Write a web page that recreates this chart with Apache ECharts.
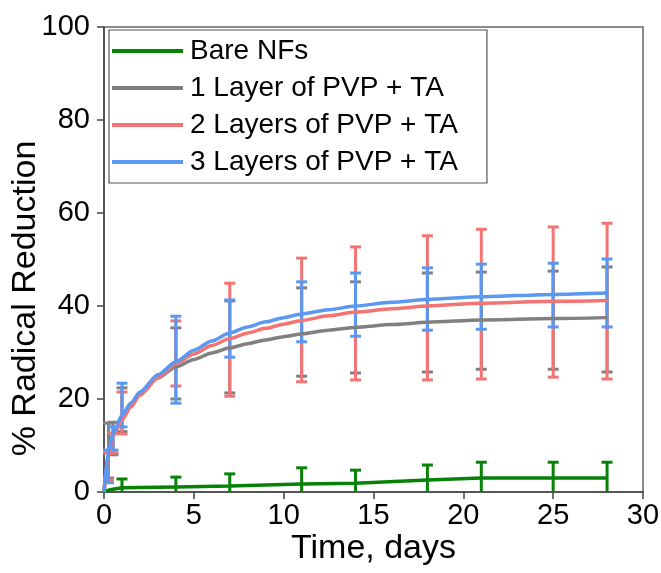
<!DOCTYPE html>
<html>
<head>
<meta charset="utf-8">
<script src="https://cdn.jsdelivr.net/npm/echarts@6/dist/echarts.min.js"></script>
<style>
  html, body { margin: 0; padding: 0; background: #fff; }
  #chart { width: 661px; height: 573px; }
</style>
</head>
<body>
<div id="chart"></div>
<script>
// Series names
const names = ['Bare NFs', '1 Layer of PVP + TA', '2 Layers of PVP + TA', '3 Layers of PVP + TA'];

// Fitted release curves (% radical reduction vs. time in days)
const curveDays = [0, 0.25, 0.5, 1, 1.5, 2, 3, 4, 5, 6, 7, 8, 9, 10, 11, 12.5, 14, 16, 18, 21, 25, 28];
const grayCurve = [0, 8.5, 12.5, 16, 18.7, 21, 24.5, 26.9, 28.5, 29.9, 31.0, 31.9, 32.7, 33.4, 34.0, 34.8, 35.4, 36.0, 36.5, 37.0, 37.3, 37.5];
const redCurve  = [0, 8, 12, 15.5, 18.3, 20.8, 24.5, 27.6, 29.7, 31.5, 33.0, 34.2, 35.2, 36.1, 36.9, 37.9, 38.7, 39.4, 40.0, 40.6, 41.0, 41.2];
const blueCurve = [0, 9, 12.5, 16.5, 19.2, 21.5, 25.2, 28, 30.5, 32.5, 34.2, 35.5, 36.6, 37.5, 38.3, 39.2, 40.0, 40.8, 41.4, 42.0, 42.5, 42.8];

// Bare nanofibres
const greenDays  = [0, 0.25, 0.5, 1, 4, 7, 11, 14, 18, 21, 25, 28];
const greenCurve = [0, 0.4, 0.6, 0.9, 1.1, 1.3, 1.7, 1.9, 2.6, 3.0, 3.0, 3.0];

// Error bars at the measurement days: [low, high]
const barDays  = [0.25, 0.5, 1, 4, 7, 11, 14, 18, 21, 25, 28];
const grayLow  = [3, 8, 13, 20, 21.3, 24.9, 25.6, 25.8, 26.4, 26.4, 25.8];
const grayHigh = [14.8, 15, 22.4, 35.3, 41.1, 43.9, 45.2, 47.1, 47.3, 47.5, 48.4];
const redLow   = [2.6, 8.4, 12.5, 22.8, 20.6, 23.7, 24.1, 24.1, 24.3, 24.7, 24.3];
const redHigh  = [8.4, 12.7, 21.5, 36.8, 44.9, 50.3, 52.7, 55.1, 56.5, 57.0, 57.8];
const blueLow  = [2, 9, 14, 19.1, 29.0, 32.3, 33.5, 34.8, 35.0, 35.5, 35.5];
const blueHigh = [9, 14, 23.4, 37.8, 41.3, 45.2, 47.1, 48.2, 49.0, 49.2, 50.1];

const greenBarDays = [1, 4, 7, 11, 14, 18, 21, 25, 28];
const greenMean    = [0.9, 1.1, 1.3, 1.7, 1.9, 2.6, 3.0, 3.0, 3.0];
const greenHigh    = [2.8, 3.2, 3.9, 5.2, 4.7, 5.8, 6.4, 6.4, 6.4];

// Axis ticks
const xTicks = [0, 5, 10, 15, 20, 25, 30];
const yTicks = [0, 20, 40, 60, 80, 100];

const colors = { green: '#078207', gray: '#808080', red: '#F47474', blue: '#5A98F2' };
const FONT = '"Liberation Sans", Arial, sans-serif';

function pairs(xs, ys) { return xs.map((x, i) => [x, ys[i]]); }
function triples(xs, lo, hi) { return xs.map((x, i) => [x, lo[i], hi[i]]); }

function errorBarRenderer(color) {
  return function (params, api) {
    const x = api.value(0);
    const lo = Math.max(api.value(1), 0);
    const hi = api.value(2);
    const pLo = api.coord([x, lo]);
    const pHi = api.coord([x, hi]);
    const half = 5.5;
    const style = { stroke: color, lineWidth: 3 };
    const children = [
      { type: 'line', shape: { x1: pLo[0], y1: pLo[1], x2: pHi[0], y2: pHi[1] }, style },
      { type: 'line', shape: { x1: pHi[0] - half, y1: pHi[1], x2: pHi[0] + half, y2: pHi[1] }, style }
    ];
    if (api.value(1) > 0) {
      children.push({ type: 'line', shape: { x1: pLo[0] - half, y1: pLo[1], x2: pLo[0] + half, y2: pLo[1] }, style });
    }
    return { type: 'group', children };
  };
}

function barSeries(data, color, z) {
  return {
    type: 'custom',
    renderItem: errorBarRenderer(color),
    data,
    z,
    silent: true,
    encode: { x: 0, y: [1, 2] }
  };
}

function curveSeries(name, data, color, z, smooth) {
  return {
    name, type: 'line', data, z,
    smooth: smooth ? 0.25 : false,
    smoothMonotone: 'x',
    symbol: 'none',
    color,
    lineStyle: { color, width: 3.5 },
    itemStyle: { color }
  };
}

const chart = echarts.init(document.getElementById('chart'), null, { renderer: 'canvas' });

chart.setOption({
  animation: false,
  backgroundColor: '#fff',
  grid: {
    left: 104, right: 18, top: 27, bottom: 81,
    containLabel: false,
    outerBoundsMode: 'none',
    show: true, borderColor: '#666', borderWidth: 1.5, backgroundColor: 'transparent'
  },
  legend: {
    data: names,
    orient: 'vertical',
    left: 109, top: 30,
    icon: 'rect',
    itemWidth: 71, itemHeight: 4, itemGap: 7,
    padding: [6, 29, 6, 3],
    backgroundColor: '#fff',
    borderColor: '#555', borderWidth: 1.2,
    textStyle: { fontFamily: FONT, fontSize: 28, color: '#000', lineHeight: 30, padding: [0, 0, 0, 2] }
  },
  xAxis: {
    type: 'value', min: xTicks[0], max: xTicks[xTicks.length - 1], interval: 5,
    name: 'Time, days', nameLocation: 'middle', nameGap: 40,
    nameMoveOverlap: false,
    nameTextStyle: { fontFamily: FONT, fontSize: 34, color: '#000' },
    axisLine: { show: true, onZero: false, lineStyle: { color: '#444', width: 1.5 } },
    axisTick: { show: true, inside: false, length: 7, lineStyle: { color: '#444', width: 1.5 } },
    axisLabel: { fontFamily: FONT, fontSize: 29, color: '#000', margin: 9 },
    splitLine: { show: false }
  },
  yAxis: {
    type: 'value', min: yTicks[0], max: yTicks[yTicks.length - 1], interval: 20,
    name: '% Radical Reduction', nameLocation: 'middle', nameGap: 61,
    nameMoveOverlap: false,
    nameTextStyle: { fontFamily: FONT, fontSize: 34, color: '#000', padding: [0, 78, 0, 0] },
    axisLine: { show: true, onZero: false, lineStyle: { color: '#444', width: 1.5 } },
    axisTick: { show: true, inside: false, length: 7, lineStyle: { color: '#444', width: 1.5 } },
    axisLabel: { fontFamily: FONT, fontSize: 29, color: '#000', margin: 14 },
    splitLine: { show: false }
  },
  series: [
    barSeries(triples(greenBarDays, greenMean.map((m, i) => 2 * m - greenHigh[i]), greenHigh), colors.green, 2),
    barSeries(triples(barDays, grayLow, grayHigh), colors.gray, 3),
    barSeries(triples(barDays, redLow, redHigh), colors.red, 4),
    barSeries(triples(barDays, blueLow, blueHigh), colors.blue, 5),
    curveSeries(names[0], pairs(greenDays, greenCurve), colors.green, 6, false),
    curveSeries(names[1], pairs(curveDays, grayCurve), colors.gray, 7, true),
    curveSeries(names[2], pairs(curveDays, redCurve), colors.red, 8, true),
    curveSeries(names[3], pairs(curveDays, blueCurve), colors.blue, 9, true)
  ]
});
</script>
</body>
</html>
